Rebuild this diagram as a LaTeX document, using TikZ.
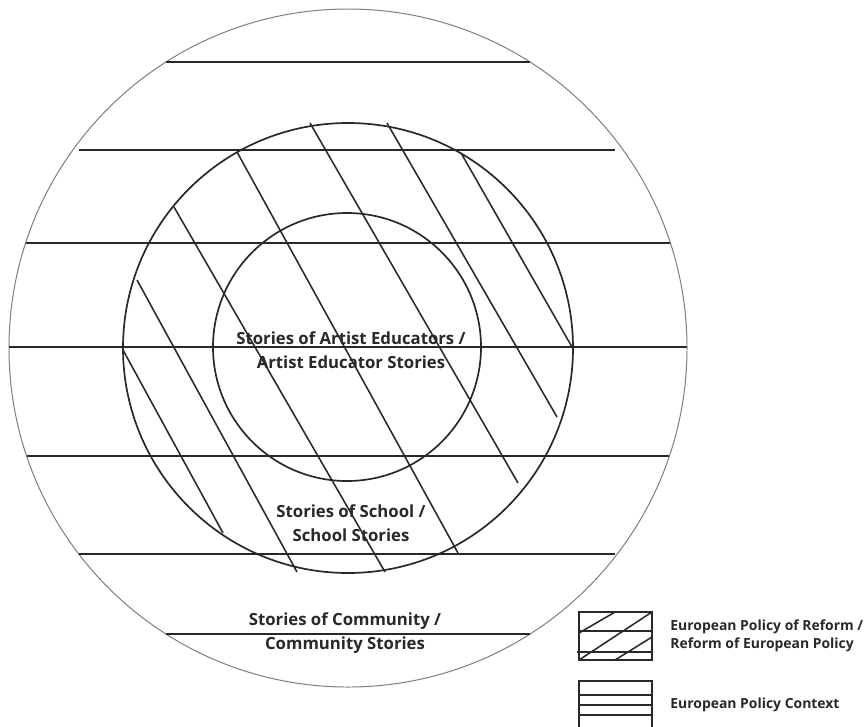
\documentclass[tikz,border=0pt]{standalone}
\usepackage{fontspec}
\setmainfont{Open Sans}
\usetikzlibrary{positioning}
\definecolor{inkgray}{RGB}{40,40,40}
\definecolor{rimgray}{RGB}{125,125,125}
\tikzset{
  rimcircle/.style={draw=rimgray, line width=0.7pt},
  ringcircle/.style={draw=inkgray, line width=1.2pt},
  contextline/.style={draw=inkgray, line width=1.35pt},
  reformline/.style={draw=inkgray, line width=1.1pt},
  storylabel/.style={align=center, inner sep=1pt, text=inkgray, font=\bfseries\fontsize{11.9}{16.7}\selectfont},
  legendlabel/.style={align=left, inner sep=1pt, text=inkgray, font=\bfseries\fontsize{9.9}{13}\selectfont},
  legendbox/.style={draw=inkgray, line width=1pt, minimum width=1.825cm, minimum height=1.2cm, inner sep=0pt}
}

\begin{document}
\begin{tikzpicture}[x=0.025cm, y=-0.025cm]
\useasboundingbox (0,0) rectangle (865,726);
\coordinate (hub) at (348,348);
\draw[rimcircle] (hub) circle[radius=339];
\draw[ringcircle] (hub) circle[radius=225];
\draw[ringcircle] (347,347) circle[radius=134];
\foreach \y/\xa/\xb in {62/166/530, 150/79/615, 243/26/670, 347/9/687, 456/27/669, 554/79/615, 634/166/530}
  \draw[contextline] (\xa,\y) -- (\xb,\y);
\foreach \xa/\ya/\xb/\yb in {123/350/223/533, 137/280/297/572, 174/207/385/572, 237/152/458/553, 310/123/518/483, 387/123/557/417, 461/153/572/347}
  \draw[reformline] (\xa,\ya) -- (\xb,\yb);
\node[storylabel] (artist) at (351,350) {Stories of Artist Educators /\\Artist Educator Stories};
\node[storylabel] (school) at (351,523) {Stories of School /\\School Stories};
\node[storylabel] (community) at (345,633) {Stories of Community /\\Community Stories};
\node[legendbox] (reformkey) at (615.5,636) {};
\draw[reformline] (579,631) -- (653,631);
\draw[reformline] (577,652) -- (653,652);
\draw[reformline] (579,633) -- (615,612);
\draw[reformline] (579,660) -- (652,612);
\draw[reformline] (615,660) -- (652,637);
\node[legendbox] (contextkey) at (615.5,705) {};
\foreach \y in {695,705,715}
  \draw[reformline] (579,\y) -- (653,\y);
\node[legendlabel, right=0.4cm of reformkey] (reformtext) {European Policy of Reform /\\Reform of European Policy};
\node[legendlabel, right=0.4cm of contextkey] (contexttext) {European Policy Context};
\end{tikzpicture}
\end{document}
